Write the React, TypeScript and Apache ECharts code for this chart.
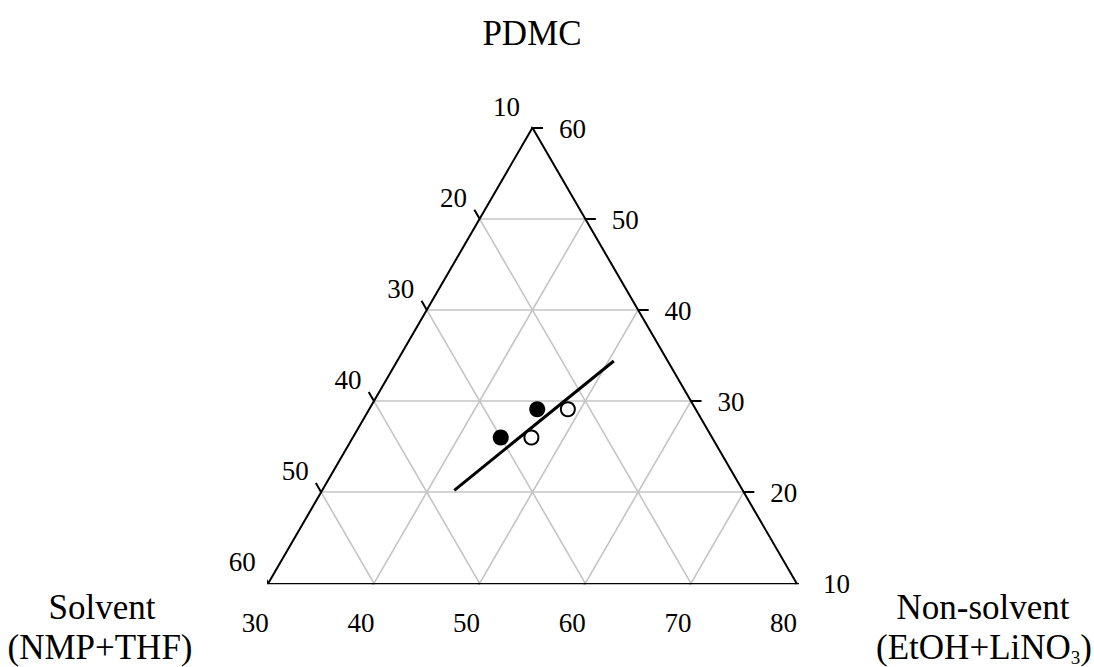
import React, { useEffect, useRef } from "react";
import * as echarts from "echarts";

// Axis ranges of the ternary window (wt%)
const solventTicks = [10, 20, 30, 40, 50, 60];
const pdmcTicks = [60, 50, 40, 30, 20, 10];
const nonSolventTicks = [30, 40, 50, 60, 70, 80];
const gridSolvent = [20, 30, 40, 50];
const gridPdmc = [20, 30, 40, 50];
const gridNonSolvent = [40, 50, 60, 70];

// Compositions: solvent / PDMC / non-solvent (wt%)
const filledSolvent = [30.0, 25.0];
const filledPdmc = [26.0, 29.1];
const filledNonSolvent = [44.0, 45.9];

const openSolvent = [27.1, 22.1];
const openPdmc = [26.0, 29.1];
const openNonSolvent = [46.9, 48.8];

const lineSolvent = [37.3, 15.1];
const linePdmc = [20.2, 34.4];
const lineNonSolvent = [42.5, 50.5];

const FONT = "'Liberation Serif', 'Times New Roman', serif";
const TICK = 1; // tick length in composition units

// ternary (solvent, pdmc, nonSolvent) -> cartesian in the unit frame of the window
function proj(s: number, p: number, n: number): [number, number] {
  void s;
  return [(n - 30) / 50 + (p - 10) / 100, (p - 10) / 50];
}

function points(s: number[], p: number[], n: number[]) {
  return s.map((_, i) => proj(s[i], p[i], n[i]));
}

function title(text: string, x: number, y: number, extra: Record<string, unknown> = {}) {
  return {
    type: "text",
    x,
    y,
    style: {
      text,
      fontFamily: FONT,
      fontSize: 35,
      lineHeight: 28,
      fill: "#000",
      align: "center",
      verticalAlign: "middle",
      ...extra,
    },
  };
}

export default function App() {
  const ref = useRef<HTMLDivElement>(null);

  useEffect(() => {
    if (!ref.current) return;
    const chart = echarts.init(ref.current, undefined, { renderer: "svg" });

    const gridSegs: { coords: [number, number][] }[] = [];
    gridPdmc.forEach((k) => gridSegs.push({ coords: [proj(70 - k, k, 30), proj(10, k, 90 - k)] }));
    gridSolvent.forEach((k) => gridSegs.push({ coords: [proj(k, 70 - k, 30), proj(k, 10, 90 - k)] }));
    gridNonSolvent.forEach((k) => gridSegs.push({ coords: [proj(90 - k, 10, k), proj(10, 90 - k, k)] }));

    const frameSegs: { coords: [number, number][] }[] = [
      { coords: [proj(60, 10, 30), proj(10, 10, 80)] },
      { coords: [proj(10, 10, 80), proj(10, 60, 30)] },
      { coords: [proj(10, 60, 30), proj(60, 10, 30)] },
    ];
    solventTicks.forEach((k) =>
      frameSegs.push({ coords: [proj(k, 70 - k, 30), proj(k, 70 - k + TICK, 30 - TICK)] })
    );
    pdmcTicks.forEach((k) =>
      frameSegs.push({ coords: [proj(10, k, 90 - k), proj(10 - TICK, k, 90 - k + TICK)] })
    );
    nonSolventTicks.forEach((k) =>
      frameSegs.push({ coords: [proj(90 - k, 10, k), proj(90 - k + TICK, 10 - TICK, k)] })
    );

    const tickLabelSeries = (data: { name: string; value: [number, number] }[], offset: number[]) => ({
      type: "scatter",
      data,
      symbolSize: 1,
      itemStyle: { color: "rgba(0,0,0,0)", opacity: 1 },
      silent: true,
      z: 5,
      label: {
        show: true,
        position: "inside",
        offset,
        formatter: "{b}",
        color: "#000",
        opacity: 1,
        textBorderWidth: 0,
        fontFamily: FONT,
        fontSize: 27,
        align: "center",
        verticalAlign: "middle",
      },
    });

    chart.setOption({
      animation: false,
      grid: { left: 268.3, top: 127.7, width: 528.3, height: 455.6, show: false },
      xAxis: { type: "value", min: 0, max: 1, show: false },
      yAxis: { type: "value", min: 0, max: 1, show: false },
      series: [
        {
          type: "lines",
          coordinateSystem: "cartesian2d",
          data: gridSegs,
          lineStyle: { color: "#c4c4c4", width: 1.6, opacity: 1 },
          silent: true,
          z: 1,
        },
        {
          type: "lines",
          coordinateSystem: "cartesian2d",
          data: frameSegs,
          lineStyle: { color: "#000", width: 2, opacity: 1 },
          silent: true,
          z: 2,
        },
        tickLabelSeries(
          solventTicks.map((k) => ({ name: String(k), value: proj(k, 70 - k, 30) })),
          [-26, -21]
        ),
        tickLabelSeries(
          pdmcTicks.map((k) => ({ name: String(k), value: proj(10, k, 90 - k) })),
          [40, 1]
        ),
        tickLabelSeries(
          nonSolventTicks.map((k) => ({ name: String(k), value: proj(90 - k, 10, k) })),
          [-13, 40]
        ),
        {
          type: "line",
          data: points(lineSolvent, linePdmc, lineNonSolvent),
          symbol: "none",
          lineStyle: { color: "#000", width: 3, opacity: 1 },
          z: 6,
        },
        {
          type: "scatter",
          data: points(filledSolvent, filledPdmc, filledNonSolvent),
          symbolSize: 16,
          itemStyle: { color: "#000", opacity: 1 },
          z: 7,
        },
        {
          type: "scatter",
          data: points(openSolvent, openPdmc, openNonSolvent),
          symbolSize: 14,
          itemStyle: { color: "#fff", borderColor: "#000", borderWidth: 2, opacity: 1 },
          z: 7,
        },
      ],
      graphic: [
        title("PDMC", 532, 33),
        title("Solvent", 102, 607),
        title("(NMP+THF)", 100, 647),
        title("Non-solvent", 983, 607),
        title("{t|(EtOH+LiNO}{s|3}{t|)}", 984, 647, {
          rich: {
            t: { fontFamily: FONT, fontSize: 35, lineHeight: 35, fill: "#000" },
            s: {
              fontFamily: FONT,
              fontSize: 19,
              lineHeight: 19,
              fill: "#000",
              verticalAlign: "top",
              padding: [18, 0, 0, 0],
            },
          },
        }),
      ],
    });

    return () => chart.dispose();
  }, []);

  return (
    <div
      ref={ref}
      style={{ position: "absolute", left: 0, top: 0, width: 1094, height: 667, background: "#fff" }}
    />
  );
}
